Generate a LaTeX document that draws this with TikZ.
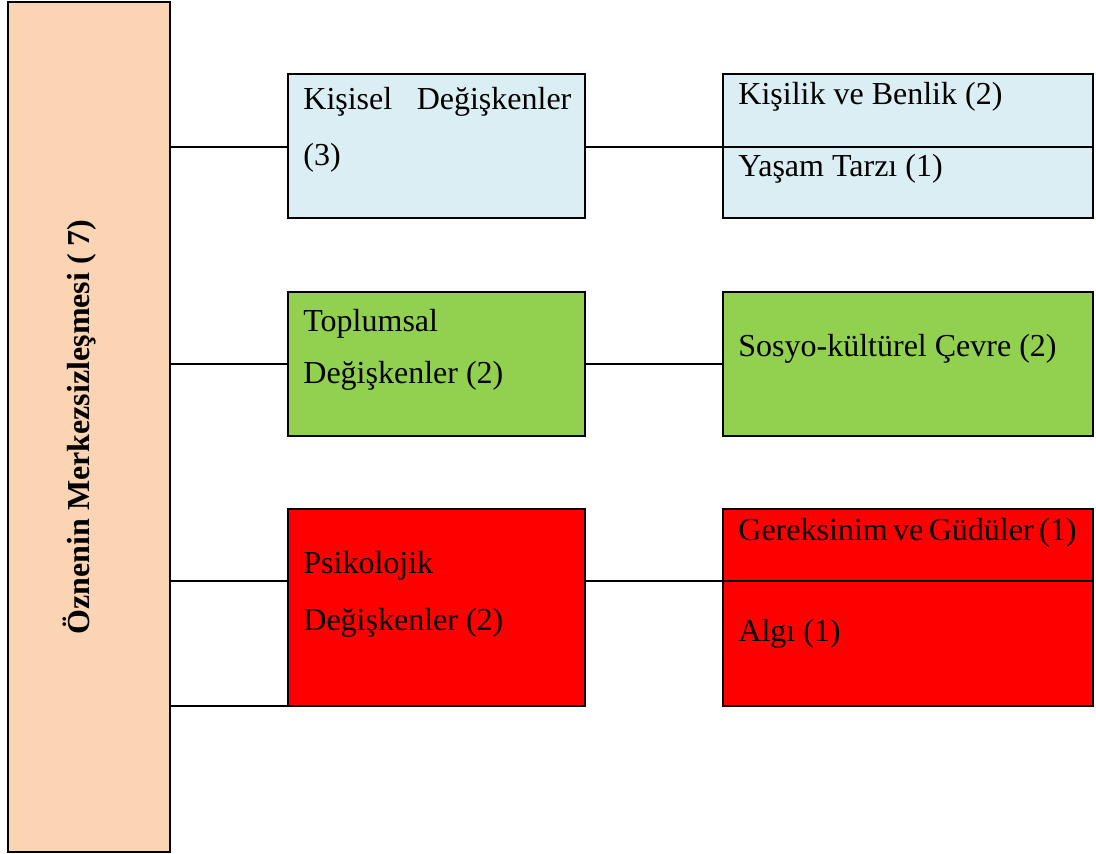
\documentclass[tikz,border=0pt]{standalone}
\usepackage{fontspec}
\setmainfont{Liberation Serif}
\usetikzlibrary{calc}
\definecolor{peach}{HTML}{FBD4B4}
\definecolor{paleblue}{HTML}{DAEEF3}
\definecolor{leaf}{HTML}{92D050}
\definecolor{alarm}{HTML}{FF0000}
\begin{document}
\begin{tikzpicture}[x=0.5pt,y=-0.5pt,
  cell/.style={draw=black,line width=1.25pt,rectangle,inner sep=0pt,outer sep=0pt,anchor=north west},
  txt/.style={anchor=base west,inner sep=0pt,font=\fontsize{16}{19}\selectfont},
  link/.style={draw=black,line width=1.25pt}]
\useasboundingbox (0,0) rectangle (1096,854);
% main vertical box
\node[cell,fill=peach,minimum width=81pt,minimum height=425pt] (main) at (8,2) {};
\node[rotate=90,inner sep=0pt,font=\fontsize{16}{19}\selectfont\bfseries] (maint) at (80,427) {Öznenin Merkezsizleşmesi ( 7)};
% row 1
\node[cell,fill=paleblue,minimum width=148.5pt,minimum height=72pt] (k1) at (288,74) {};
\node[cell,fill=paleblue,minimum width=185pt,minimum height=36.5pt] (k1a) at (723,74) {};
\node[cell,fill=paleblue,minimum width=185pt,minimum height=35.5pt] (k1b) at (723,147) {};
\node[txt] (k1t1) at (303,110) {\makebox[134pt][s]{Kişisel\hfill Değişkenler}};
\node[txt] (k1t2) at (303,166) {(3)};
\node[txt] (k1at) at (738,105) {Kişilik ve Benlik (2)};
\node[txt] (k1bt) at (738,177) {Yaşam Tarzı (1)};
% row 2
\node[cell,fill=leaf,minimum width=148.5pt,minimum height=72pt] (k2) at (288,292) {};
\node[cell,fill=leaf,minimum width=185pt,minimum height=72pt] (k2a) at (723,292) {};
\node[txt] (k2t1) at (303,332) {Toplumsal};
\node[txt] (k2t2) at (303,384) {Değişkenler (2)};
\node[txt] (k2at) at (738,357) {Sosyo-kültürel Çevre (2)};
% row 3
\node[cell,fill=alarm,minimum width=148.5pt,minimum height=98.5pt] (k3) at (288,509) {};
\node[cell,fill=alarm,minimum width=185pt,minimum height=36pt] (k3a) at (723,509) {};
\node[cell,fill=alarm,minimum width=185pt,minimum height=62.5pt] (k3b) at (723,581) {};
\node[txt] (k3t1) at (303,574) {Psikolojik};
\node[txt] (k3t2) at (303,630) {Değişkenler (2)};
\node[txt] (k3at) at (738,541) {\makebox[169pt][s]{Gereksinim ve Güdüler (1)}};
\node[txt] (k3bt) at (738,641) {Algı (1)};
% connectors
\draw[link] (main.east |- k1b.north west) -- (k1.west |- k1b.north west);
\draw[link] (k1.east |- k1b.north west) -- (k1b.north west);
\draw[link] (main.east |- k2.west) -- (k2.west);
\draw[link] (k2.east) -- (k2a.west);
\draw[link] (main.east |- k3b.north west) -- (k3.west |- k3b.north west);
\draw[link] (k3.east |- k3b.north west) -- (k3b.north west);
\draw[link] (main.east |- k3.south west) -- (k3.south west);
\end{tikzpicture}
\end{document}
